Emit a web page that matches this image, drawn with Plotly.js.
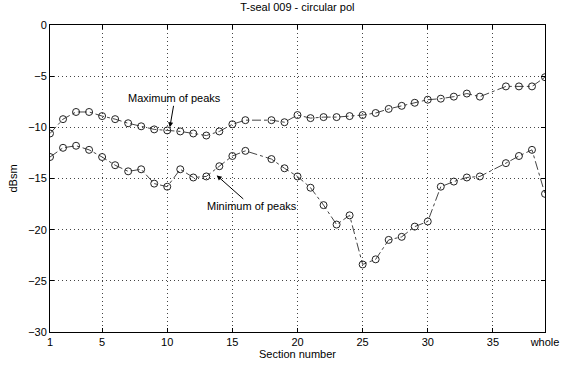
<!DOCTYPE html>
<html>
<head>
<meta charset="utf-8">
<script src="https://cdn.plot.ly/plotly-3.0.1.min.js"></script>
<style>html,body{margin:0;padding:0;background:#fff;}#chart{width:561px;height:366px;}</style>
</head>
<body>
<div id="chart"></div>
<script>
// Section numbers (39 = "whole")
var sections = [1,2,3,4,5,6,7,8,9,10,11,12,13,14,15,16,17,18,19,20,21,22,23,24,25,26,27,28,29,30,31,32,33,34,35,36,37,38,39];
var maxPeaks = [-10.6,-9.2,-8.5,-8.5,-8.9,-9.2,-9.6,-9.9,-10.2,-10.3,-10.4,-10.6,-10.8,-10.4,-9.7,-9.3,null,-9.3,-9.5,-8.8,-9.1,-9.0,-9.0,-8.9,-8.8,-8.6,-8.2,-7.9,-7.6,-7.3,-7.2,-7.0,-6.7,-7.0,null,-6.0,-6.0,-6.0,-5.1];
var minPeaks = [-12.9,-12.0,-11.8,-12.2,-12.9,-13.7,-14.3,-14.1,-15.5,-15.8,-14.1,-14.9,-14.8,-13.8,-12.8,-12.3,null,-13.1,-14.0,-14.8,-15.9,-17.6,-19.5,-18.6,-23.4,-22.9,-21.0,-20.7,-19.7,-19.2,-15.8,-15.3,-14.9,-14.8,null,-13.5,-12.8,-12.2,-16.5];
var tickVals = [1,5,10,15,20,25,30,35,39];
var tickText = ['1','5','10','15','20','25','30','35','whole'];
var yTicks = [0,-5,-10,-15,-20,-25,-30];

var font = {family: 'Liberation Sans, Arial, sans-serif', size: 11, color: '#000'};
var marker = {symbol: 'circle-open', size: 7, color: '#222', line: {width: 1, color: '#222'}};

var traces = [
  {x: sections, y: maxPeaks, mode: 'lines+markers', connectgaps: true,
   line: {color: '#444', width: 1, dash: 'dashdot'}, marker: marker, showlegend: false},
  {x: sections, y: minPeaks, mode: 'lines+markers', connectgaps: true,
   line: {color: '#444', width: 1, dash: 'dashdot'}, marker: marker, showlegend: false}
];

var axisCommon = {
  showline: true, linecolor: '#000', linewidth: 1, mirror: 'ticks',
  ticks: 'inside', ticklen: 4, tickcolor: '#000',
  showgrid: true, gridcolor: '#444', gridwidth: 1, griddash: '1px,3px',
  zeroline: false, tickfont: font
};

var layout = {
  width: 561, height: 366,
  margin: {l: 50, r: 16, t: 25, b: 34},
  paper_bgcolor: '#fff', plot_bgcolor: '#fff',
  font: font,
  title: {text: 'T-seal 009 - circular pol', font: {family: font.family, size: 11, color: '#000'}, x: 0.53, xanchor: 'center', y: 0.99, yanchor: 'top'},
  xaxis: Object.assign({}, axisCommon, {
    range: [1, 39], tickmode: 'array', tickvals: tickVals, ticktext: tickText,
    title: {text: 'Section number', font: font, standoff: 2}
  }),
  yaxis: Object.assign({}, axisCommon, {
    range: [-30, 0], tickmode: 'array', tickvals: yTicks,
    title: {text: 'dBsm', font: font, standoff: 8}
  }),
  annotations: [
    {x: 10.2, y: -10.0, xref: 'x', yref: 'y', text: 'Maximum of peaks', showarrow: true,
     arrowhead: 2, arrowsize: 1, arrowwidth: 1, arrowcolor: '#000',
     ax: 5, ay: -29, font: font},
    {x: 13.8, y: -14.7, xref: 'x', yref: 'y', text: 'Minimum of peaks', showarrow: true,
     arrowhead: 2, arrowsize: 1, arrowwidth: 1, arrowcolor: '#000',
     ax: 35, ay: 31, font: font}
  ]
};

Plotly.newPlot('chart', traces, layout, {displayModeBar: false, staticPlot: true});
</script>
</body>
</html>
